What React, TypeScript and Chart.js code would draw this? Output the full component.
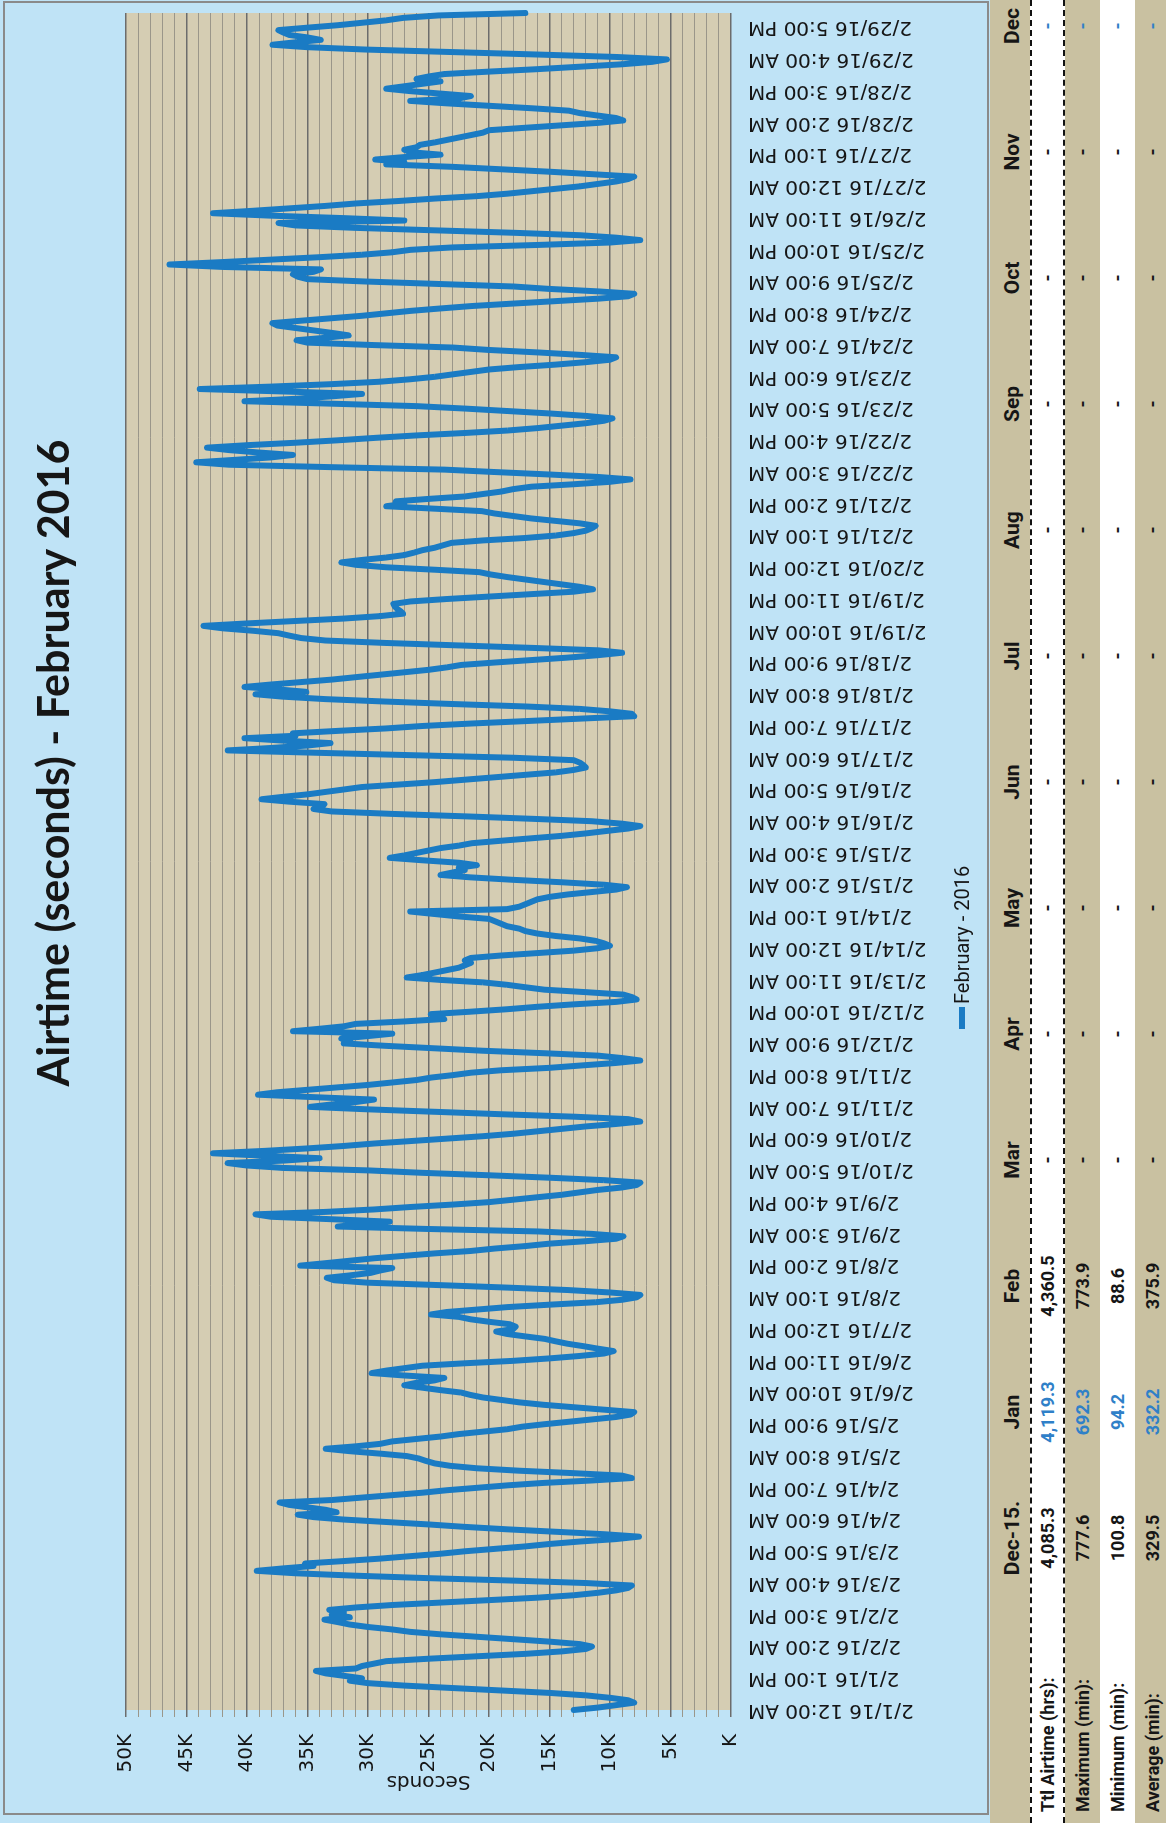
import React, { useEffect, useRef } from 'react';
import { Chart, registerables } from 'chart.js';

Chart.register(...registerables);

// ---------- DATA ----------
const CHART_TITLE = 'Airtime (seconds) - February 2016';
const SERIES_NAME = 'February - 2016';
const VALUE_AXIS_TITLE = 'Seconds';

// Category tick labels (one every 13 hourly points)
const TICK_LABELS = [
  '2/1/16 12:00 AM', '2/1/16 1:00 PM', '2/2/16 2:00 AM', '2/2/16 3:00 PM', '2/3/16 4:00 AM', '2/3/16 5:00 PM',
  '2/4/16 6:00 AM', '2/4/16 7:00 PM', '2/5/16 8:00 AM', '2/5/16 9:00 PM', '2/6/16 10:00 AM', '2/6/16 11:00 PM',
  '2/7/16 12:00 PM', '2/8/16 1:00 AM', '2/8/16 2:00 PM', '2/9/16 3:00 AM', '2/9/16 4:00 PM', '2/10/16 5:00 AM',
  '2/10/16 6:00 PM', '2/11/16 7:00 AM', '2/11/16 8:00 PM', '2/12/16 9:00 AM', '2/12/16 10:00 PM', '2/13/16 11:00 AM',
  '2/14/16 12:00 AM', '2/14/16 1:00 PM', '2/15/16 2:00 AM', '2/15/16 3:00 PM', '2/16/16 4:00 AM', '2/16/16 5:00 PM',
  '2/17/16 6:00 AM', '2/17/16 7:00 PM', '2/18/16 8:00 AM', '2/18/16 9:00 PM', '2/19/16 10:00 AM', '2/19/16 11:00 PM',
  '2/20/16 12:00 PM', '2/21/16 1:00 AM', '2/21/16 2:00 PM', '2/22/16 3:00 AM', '2/22/16 4:00 PM', '2/23/16 5:00 AM',
  '2/23/16 6:00 PM', '2/24/16 7:00 AM', '2/24/16 8:00 PM', '2/25/16 9:00 AM', '2/25/16 10:00 PM', '2/26/16 11:00 AM',
  '2/27/16 12:00 AM', '2/27/16 1:00 PM', '2/28/16 2:00 AM', '2/28/16 3:00 PM', '2/29/16 4:00 AM', '2/29/16 5:00 PM',
];
const TICK_EVERY = 13;

// Hourly airtime in seconds, 24 values per day
const WEEK_1 = [
  13000, 11000, 9500, 8000, 8500, 10000, 12000, 15000, 19000, 23000, 27000, 30000, 31500, 30500, 32000, 33500, 34300, 31000, 30500, 29500, 28500, 25000, 21000, 17000,
  14000, 12000, 11500, 12500, 15000, 18000, 21000, 24000, 26500, 28000, 30000, 31500, 32500, 33600, 31500, 33000, 32000, 33200, 31000, 28000, 24000, 20000, 16000, 13000,
  11000, 9500, 8500, 8200, 12000, 18000, 25000, 31000, 36000, 39200, 37000, 34500, 35200, 32000, 29000, 26500, 24000, 22000, 19500, 17000, 15000, 12500, 9500, 7600,
  10500, 14500, 18500, 22000, 25000, 28500, 32000, 34500, 35800, 32600, 33500, 35000, 36500, 37300, 33000, 30500, 28000, 25500, 23500, 21000, 18500, 15500, 11500, 8200,
  9000, 13000, 17500, 21000, 23200, 24500, 25200, 25800, 26800, 29000, 31500, 33500, 31000, 29000, 28000, 26000, 24000, 22500, 20500, 18500, 17300, 15500, 13500, 11500,
  9500, 8300, 8000, 10500, 13000, 15500, 17500, 19000, 20500, 21500, 22300, 24000, 25500, 27000, 26000, 24500, 23700, 27000, 29700, 28500, 27000, 25500, 22000, 18000,
  15000, 12500, 10500, 9700, 11000, 12200, 13500, 14500, 15400, 17000, 18500, 19400, 18000, 17800, 18300, 20000, 21500, 22500, 24800, 23500, 21000, 18500, 15000, 11200,
];
const WEEK_2 = [
  9000, 7800, 7500, 10000, 13500, 18500, 24000, 30000, 32800, 33400, 31500, 29800, 29000, 28000, 35600, 33500, 31500, 29500, 27000, 24500, 21500, 19500, 17000, 15000,
  12000, 9500, 8900, 11500, 16000, 25000, 32500, 30500, 28200, 33000, 38000, 39300, 33500, 29500, 26500, 23000, 20000, 18000, 16000, 14000, 12500, 11000, 9000, 7800,
  7500, 10500, 15000, 20000, 25500, 30000, 37000, 40000, 41600, 37000, 34000, 38500, 42800, 38500, 35000, 32000, 29500, 26500, 23500, 20500, 18000, 16000, 14000, 12000,
  9500, 7500, 8500, 13000, 19000, 24500, 30000, 34800, 33000, 31000, 29500, 34500, 39100, 37500, 35000, 32500, 30000, 28000, 26000, 24800, 23000, 21500, 19000, 15000,
  12300, 9500, 7500, 9000, 11000, 15500, 20500, 24500, 28500, 32000, 31500, 32200, 30000, 28000, 36200, 34000, 32000, 31000, 27000, 23700, 24200, 24800, 21500, 18500,
  16000, 13000, 9500, 7800, 8200, 8900, 12000, 15400, 17000, 18500, 20500, 24000, 26800, 25500, 24500, 23500, 22500, 22000, 21500, 22000, 21500, 19000, 16000, 13000,
  11000, 10000, 10500, 11200, 12500, 14500, 16000, 17000, 17500, 18500, 19000, 19500, 20000, 22500, 24500, 26500, 18500, 17500, 17000, 16500, 16000, 15000, 13500, 11500,
];
const WEEK_3 = [
  9500, 8600, 10500, 14000, 18000, 21500, 24000, 23000, 22000, 22500, 21000, 22500, 25500, 28200, 27000, 26000, 25000, 24000, 22500, 21400, 19000, 16500, 14000, 12000,
  10300, 8500, 7500, 9000, 11500, 16500, 22000, 28000, 33000, 34500, 33800, 33600, 36500, 38800, 37000, 35000, 33500, 32000, 30500, 27500, 24500, 22000, 19500, 17000,
  14500, 13000, 12000, 12200, 12500, 13000, 18000, 26000, 34000, 41600, 38000, 35000, 33100, 37000, 40200, 36000, 36200, 32500, 28500, 25500, 21500, 17000, 12500, 8000,
  8200, 10000, 12500, 17000, 23000, 28500, 33500, 37000, 39300, 35100, 37500, 40200, 38000, 35500, 33000, 31000, 29000, 27000, 25000, 23500, 22300, 19500, 16500, 13500,
  11000, 9000, 11000, 16500, 22500, 28500, 33500, 35500, 36500, 37400, 39500, 42000, 43600, 40000, 36000, 32000, 29000, 27100, 27300, 27600, 27800, 27900, 26500, 23500,
  20000, 16500, 13000, 11400, 12500, 14000, 15500, 17000, 18500, 19800, 20800, 24500, 28500, 31000, 32200, 30500, 28500, 27000, 26200, 25500, 24500, 23800, 23100, 20500,
  17000, 14500, 13000, 12000, 11500, 11200, 12500, 14500, 16500, 18000, 19500, 20600, 24500, 28500, 27000, 27700, 25000, 22000, 20500, 19000, 18000, 16500, 13000, 10000,
];
const WEEK_4 = [
  8300, 11000, 15000, 19500, 23700, 33000, 41500, 44200, 41000, 38000, 36200, 39000, 41500, 43300, 40000, 36000, 32500, 29400, 26000, 22000, 18500, 16000, 14000, 12000,
  10500, 9800, 12000, 15000, 18500, 22000, 26000, 33000, 40200, 36000, 33000, 30500, 37000, 43900, 38000, 33000, 29000, 26500, 24500, 23000, 21500, 20000, 17500, 14500,
  12000, 10000, 9500, 12500, 16000, 20000, 23000, 29500, 35000, 35900, 33500, 31600, 33000, 34500, 36000, 37500, 37900, 35500, 33000, 30500, 28500, 26500, 24000, 21400,
  18000, 14500, 11000, 8500, 8000, 11000, 15000, 18000, 24000, 30000, 35000, 35800, 36200, 34500, 33900, 42000, 46400, 42000, 38000, 34000, 30500, 28000, 26500, 23000,
  16000, 10000, 7500, 9500, 12500, 18000, 24500, 31000, 36000, 37400, 27000, 32000, 38000, 42800, 39500, 36500, 33500, 31000, 27500, 24500, 21000, 18500, 16500, 14500,
  12500, 11000, 9500, 8500, 8000, 11500, 15000, 19000, 23000, 28500, 27000, 29400, 27000, 24000, 26500, 27000, 26000, 25700, 24500, 23500, 22500, 21500, 20500, 20000,
  17000, 14000, 11000, 8900, 9500, 11000, 12500, 13400, 16500, 20000, 23500, 26500, 22500, 21500, 24000, 26500, 28500, 27000, 25500, 24000, 26000, 25000, 23700, 20000,
];
const LEAP_DAY = [
  16000, 12500, 9000, 6500, 5300, 9500, 16000, 23000, 30000, 35000, 37900, 36000, 33900, 35000, 36500, 37000, 37400, 35000, 32500, 30500, 28500, 27100, 24200, 17000,
];

// Value axis
const VALUE_MIN = 0;
const VALUE_MAX = 50000;
const MINOR_STEP = 1000;
const MAJOR_STEP = 5000;

// Summary table
const TABLE_COLUMNS = ['Dec-15.', 'Jan', 'Feb', 'Mar', 'Apr', 'May', 'Jun', 'Jul', 'Aug', 'Sep', 'Oct', 'Nov', 'Dec'];
const ROW_LABELS = ['Ttl Airtime (hrs):', 'Maximum (min):', 'Minimum (min):', 'Average (min):'];
const TTL_AIRTIME_HRS = ['4,085.3', '4,119.3', '4,360.5', '-', '-', '-', '-', '-', '-', '-', '-', '-', '-'];
const MAXIMUM_MIN = ['777.6', '692.3', '773.9', '-', '-', '-', '-', '-', '-', '-', '-', '-', '-'];
const MINIMUM_MIN = ['100.8', '94.2', '88.6', '-', '-', '-', '-', '-', '-', '-', '-', '-', '-'];
const AVERAGE_MIN = ['329.5', '332.2', '375.9', '-', '-', '-', '-', '-', '-', '-', '-', '-', '-'];
const BLUE_COLUMNS = ['Jan', 'Dec'];

// ---------- STYLE ----------
const PAGE_W = 1166;
const PAGE_H = 1823;
const LAND_W = PAGE_H; // landscape width before rotation
const LAND_H = PAGE_W;
const CANVAS_H = 988;

const SKY = '#bfe3f6';
const PLOT_BG = '#d5cdb3';
const TABLE_TAN = '#c9c1a1';
const LINE_BLUE = '#1a7bc4';
const GRID_MAJOR = '#6c6c6c';
const GRID_MINOR = '#9a968a';
const TEXT = '#161616';
const TICK_FONT = "'DejaVu Sans', Verdana, sans-serif";
const NARROW_FONT = "'Liberation Sans Narrow', 'Roboto', 'Liberation Sans', sans-serif";

export default function App() {
  const canvasRef = useRef<HTMLCanvasElement | null>(null);

  useEffect(() => {
    const values = [...WEEK_1, ...WEEK_2, ...WEEK_3, ...WEEK_4, ...LEAP_DAY];
    const labels = values.map((_, i) =>
      i % TICK_EVERY === 0 && TICK_LABELS[i / TICK_EVERY] !== undefined ? TICK_LABELS[i / TICK_EVERY] : ''
    );

    const plotBackground = {
      id: 'plotBackground',
      beforeDraw(chart: any) {
        const { ctx, chartArea } = chart;
        if (!chartArea) return;
        ctx.save();
        ctx.fillStyle = PLOT_BG;
        ctx.fillRect(chartArea.left, chartArea.top, chartArea.right - chartArea.left, chartArea.bottom - chartArea.top);
        ctx.restore();
      },
    };

    const chart = new Chart(canvasRef.current as HTMLCanvasElement, {
      type: 'line',
      data: {
        labels,
        datasets: [
          {
            label: SERIES_NAME,
            data: values,
            borderColor: LINE_BLUE,
            backgroundColor: LINE_BLUE,
            borderWidth: 6,
            pointRadius: 0,
            tension: 0,
            fill: false,
            borderJoinStyle: 'round',
            borderCapStyle: 'round',
          },
        ],
      },
      options: {
        responsive: false,
        animation: false,
        layout: { padding: { top: 126, right: 13, bottom: 0, left: 0 } },
        plugins: {
          legend: { display: false },
          title: { display: false },
          tooltip: { enabled: false },
        },
        scales: {
          x: {
            type: 'category',
            offset: false,
            grid: { display: false, drawTicks: false },
            border: { display: false },
            ticks: {
              autoSkip: false,
              minRotation: 90,
              maxRotation: 90,
              padding: 17,
              color: TEXT,
              font: { family: TICK_FONT, size: 20 },
            },
            afterFit: (scale: any) => {
              scale.height = CANVAS_H - 731;
              scale.paddingLeft = 0;
              scale.paddingRight = 0;
            },
          },
          y: {
            min: VALUE_MIN,
            max: VALUE_MAX,
            border: { display: false },
            grid: {
              color: (ctx: any) => (ctx.tick && ctx.tick.value % MAJOR_STEP === 0 ? GRID_MAJOR : GRID_MINOR),
              lineWidth: (ctx: any) => (ctx.tick && ctx.tick.value % MAJOR_STEP === 0 ? 1.5 : 1),
              drawTicks: true,
              tickLength: 7,
            },
            ticks: {
              stepSize: MINOR_STEP,
              autoSkip: false,
              padding: 17,
              color: TEXT,
              font: { family: TICK_FONT, size: 20 },
              callback: (v: any) => {
                const n = Number(v);
                if (n % MAJOR_STEP !== 0) return '';
                return n === 0 ? 'K' : `${n / 1000}K`;
              },
            },
            title: {
              display: true,
              text: VALUE_AXIS_TITLE,
              color: TEXT,
              font: { family: TICK_FONT, size: 20 },
              padding: { top: 30, bottom: 0 },
            },
            afterFit: (scale: any) => {
              scale.width = 113;
            },
          },
        },
      } as any,
      plugins: [plotBackground],
    });

    return () => chart.destroy();
  }, []);

  const rows = [TTL_AIRTIME_HRS, MAXIMUM_MIN, MINIMUM_MIN, AVERAGE_MIN];
  const rowBands = [
    { top: 1030, height: 35, bg: '#ffffff', dashed: true },
    { top: 1065, height: 35, bg: TABLE_TAN, dashed: false },
    { top: 1100, height: 35, bg: '#ffffff', dashed: false },
    { top: 1135, height: 35, bg: TABLE_TAN, dashed: false },
  ];
  const LABEL_COL_W = 222;
  const COL_W = 126;

  return (
    <div
      style={{
        position: 'absolute',
        left: 0,
        top: 0,
        width: PAGE_W,
        height: PAGE_H,
        overflow: 'hidden',
        background: SKY,
      }}
    >
      <div
        style={{
          position: 'absolute',
          left: 0,
          top: 0,
          width: LAND_W,
          height: LAND_H,
          transformOrigin: '0 0',
          transform: `translate(0px, ${LAND_W}px) rotate(-90deg)`,
          background: SKY,
        }}
      >
        {/* chart frame */}
        <div
          style={{
            position: 'absolute',
            left: 8,
            top: 3,
            width: LAND_W - 9,
            height: CANVAS_H - 2,
            boxSizing: 'border-box',
            border: '2px solid #8a8a8a',
          }}
        />
        <canvas
          ref={canvasRef}
          width={LAND_W}
          height={CANVAS_H}
          style={{ position: 'absolute', left: 0, top: 0, width: LAND_W, height: CANVAS_H }}
        />
        {/* title */}
        <div
          style={{
            position: 'absolute',
            left: 700,
            top: 27,
            width: 720,
            height: 52,
            lineHeight: '52px',
            fontFamily: "Lato, 'Open Sans', sans-serif",
            fontWeight: 700,
            fontSize: 43,
            color: TEXT,
            whiteSpace: 'nowrap',
            textAlign: 'center',
          }}
        >
          {CHART_TITLE}
        </div>
        {/* legend */}
        <div
          style={{
            position: 'absolute',
            left: 794,
            top: 948,
            height: 28,
            display: 'flex',
            alignItems: 'center',
            whiteSpace: 'nowrap',
          }}
        >
          <div style={{ width: 22, height: 6, background: LINE_BLUE, marginRight: 3 }} />
          <span style={{ fontFamily: NARROW_FONT, fontSize: 20, color: TEXT }}>{SERIES_NAME}</span>
        </div>

        {/* summary table */}
        <div style={{ position: 'absolute', left: 0, top: 990, width: LAND_W, height: 40, background: TABLE_TAN }} />
        {rowBands.map((b, i) => (
          <div
            key={'band' + i}
            style={{
              position: 'absolute',
              left: 0,
              top: b.top,
              width: LAND_W,
              height: b.height,
              background: b.bg,
              boxSizing: 'border-box',
              borderTop: b.dashed ? '2px dashed #111' : 'none',
              borderBottom: b.dashed ? '2px dashed #111' : 'none',
            }}
          />
        ))}
        {/* header texts */}
        {TABLE_COLUMNS.map((c, j) => (
          <div
            key={'h' + j}
            style={{
              position: 'absolute',
              left: LABEL_COL_W + j * COL_W,
              top: 994,
              width: COL_W,
              height: 36,
              lineHeight: '36px',
              textAlign: 'center',
              fontFamily: NARROW_FONT,
              fontWeight: 700,
              fontSize: 21,
              color: TEXT,
            }}
          >
            {c}
          </div>
        ))}
        {/* row labels and values */}
        {ROW_LABELS.map((label, r) => (
          <React.Fragment key={'r' + r}>
            <div
              style={{
                position: 'absolute',
                left: 11,
                top: rowBands[r].top,
                height: rowBands[r].height,
                lineHeight: rowBands[r].height + 'px',
                fontFamily: NARROW_FONT,
                fontWeight: 700,
                fontSize: 18,
                color: TEXT,
                whiteSpace: 'nowrap',
              }}
            >
              {label}
            </div>
            {rows[r].map((v, j) => (
              <div
                key={'v' + r + '-' + j}
                style={{
                  position: 'absolute',
                  left: LABEL_COL_W + j * COL_W,
                  top: rowBands[r].top,
                  width: COL_W,
                  height: rowBands[r].height,
                  lineHeight: rowBands[r].height + 'px',
                  textAlign: 'center',
                  fontFamily: NARROW_FONT,
                  fontWeight: 700,
                  fontSize: 18,
                  color: BLUE_COLUMNS.includes(TABLE_COLUMNS[j]) ? '#2f80c8' : TEXT,
                }}
              >
                {v}
              </div>
            ))}
          </React.Fragment>
        ))}
      </div>
    </div>
  );
}
